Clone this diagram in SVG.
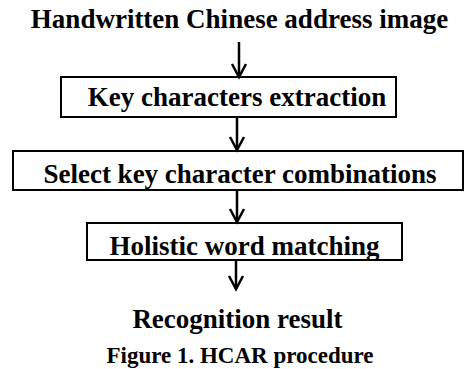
<svg xmlns="http://www.w3.org/2000/svg" width="466" height="369" viewBox="0 0 466 369">
<defs>
<marker id="arr" markerUnits="userSpaceOnUse" markerWidth="18" markerHeight="18" refX="15" refY="9" orient="auto" viewBox="0 0 18 18">
<polyline points="2,2 15,9 2,16" fill="none" stroke="#000" stroke-width="2.5"/>
</marker>
</defs>
<style>
text{font-family:"Liberation Serif","Times New Roman",serif;font-weight:bold;fill:#000;text-anchor:middle}
.t{font-size:27px}
.c{font-size:23px}
rect{fill:#fff;stroke:#000;stroke-width:2}
.conn line{stroke:#000;stroke-width:2.5}
</style>
<rect x="0" y="0" width="466" height="369" style="stroke:none"/>
<g id="input"><text class="t" x="239.5" y="28">Handwritten Chinese address image</text></g>
<g id="extract"><rect x="61" y="77" width="335" height="40"/><text class="t" x="237" y="106">Key characters extraction</text></g>
<g id="select"><rect x="13" y="151" width="450" height="39"/><text class="t" x="240" y="183">Select key character combinations</text></g>
<g id="match"><rect x="87" y="223" width="315" height="37"/><text class="t" x="244.5" y="255">Holistic word matching</text></g>
<g id="result"><text class="t" x="237.5" y="328">Recognition result</text></g>
<g id="caption"><text class="c" x="240" y="363">Figure 1. HCAR procedure</text></g>
<g class="conn">
<line x1="239" y1="42" x2="239" y2="77" marker-end="url(#arr)"/>
<line x1="237" y1="117" x2="237" y2="150" marker-end="url(#arr)"/>
<line x1="237" y1="190" x2="237" y2="222" marker-end="url(#arr)"/>
<line x1="236" y1="260" x2="236" y2="289" marker-end="url(#arr)"/>
</g>
</svg>
